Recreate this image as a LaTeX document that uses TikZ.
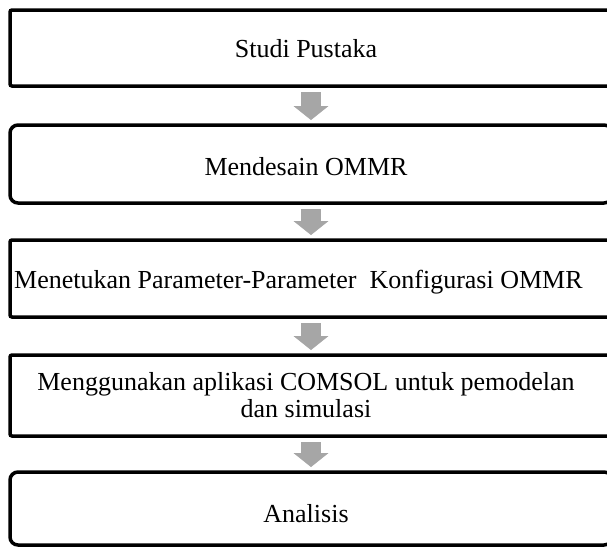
\documentclass[tikz,border=0pt]{standalone}
\usepackage{fontspec}
\setmainfont{Liberation Serif}
\usepackage{xcolor}
\usetikzlibrary{positioning, calc, arrows.meta}
\definecolor{arrowc}{RGB}{166,166,166}

\begin{document}
\begin{tikzpicture}[x=1pt, y=-1pt,
  % thick black frames, text set apart in own nodes
  stepbox/.style={draw=black, line width=3.5pt, rounded corners=2pt, inner sep=0pt,
                  minimum width=602pt},
  stepboxr/.style={stepbox, rounded corners=8pt},
  steplab/.style={font=\fontsize{26pt}{27pt}\selectfont, inner sep=0pt, align=center},
  flowarrow/.style={draw=arrowc, line width=20pt,
                    -{Triangle[width=35pt, length=14pt, line width=0.4pt]},
                    shorten <=4.25pt, shorten >=3.25pt},
]
\useasboundingbox (0,0) rectangle (607,547);

%% ── frames (right edge runs past the page) ─────────────────────
\node[stepbox,  minimum height=76pt] (lit)      at (311,48)    {};
\node[stepboxr, minimum height=78pt] (desain)   at (311,164)   {};
\node[stepbox,  minimum height=77pt] (param)    at (311,278.5) {};
\node[stepbox,  minimum height=81pt] (comsol)   at (311,395.5) {};
\node[stepboxr, minimum height=73pt] (analisis) at (311,508.5) {};

%% ── labels ──────────────────────────────────────────────────────
\node[steplab, anchor=base]      (litlab)      at (306,57)  {Studi Pustaka};
\node[steplab, anchor=base]      (desainlab)   at (306,175) {Mendesain OMMR};
\node[steplab, anchor=base west] (paramlab)    at (14,288)
  {Menetukan Parameter-Parameter\ \ Konfigurasi OMMR};
\node[steplab, anchor=base]      (comsollab)   at (306,417)
  {Menggunakan aplikasi COMSOL untuk pemodelan\\dan simulasi};
\node[steplab, anchor=base]      (analisislab) at (306,522) {Analisis};

%% ── grey block arrows ───────────────────────────────────────────
\draw[flowarrow] (lit.south)    -- (desain.north);
\draw[flowarrow] (desain.south) -- (param.north);
\draw[flowarrow] (param.south)  -- (comsol.north);
\draw[flowarrow] (comsol.south) -- (analisis.north);

\end{tikzpicture}
\end{document}
